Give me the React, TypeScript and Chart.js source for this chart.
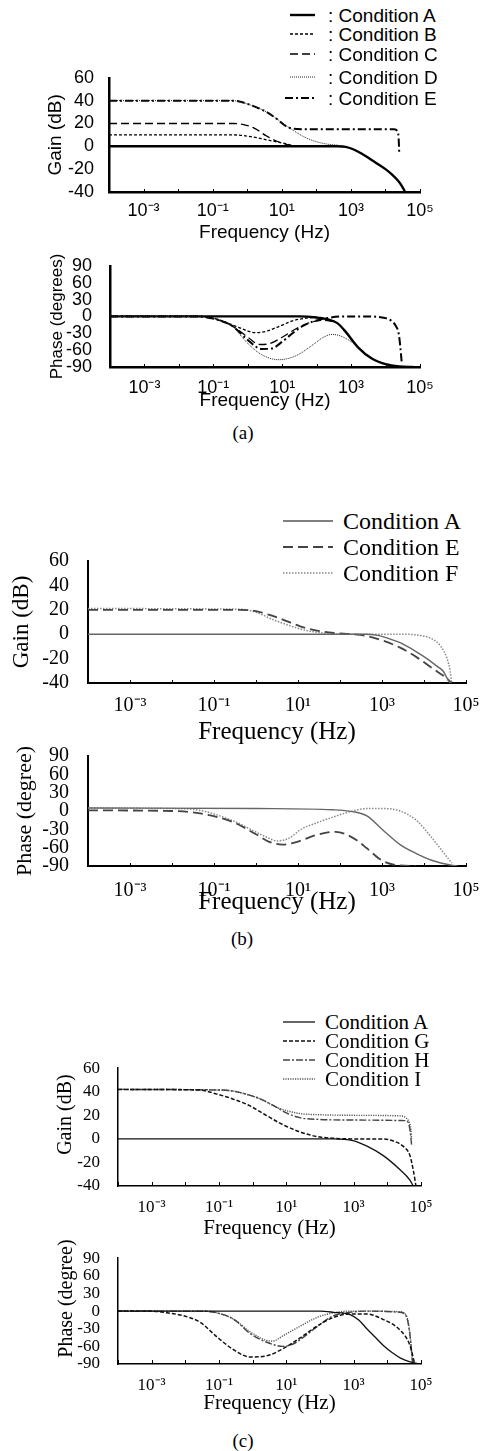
import React, { useEffect, useRef } from 'react';
import { Chart, registerables } from 'chart.js';

Chart.register(...registerables);

type Pts = [number, number][]; // [log10(frequency), value]

// ---------- shared axis data ----------
const X_EXPONENTS = [-4, -3, -2, -1, 0, 1, 2, 3, 4, 5];
const X_TICK_LABELS = ['', '10⁻³', '', '10⁻¹', '', '10¹', '', '10³', '', '10⁵'];
const GAIN_TICKS = [-40, -20, 0, 20, 40, 60];
const PHASE_TICKS = [-90, -60, -30, 0, 30, 60, 90];

// ---------- (a) gain ----------
const A_GAIN_A: Pts = [[-4, 0], [2.6, 0], [2.85, -0.5], [3.1, -3], [3.4, -8], [3.7, -14], [4.0, -20], [4.2, -25], [4.36, -30], [4.48, -35], [4.57, -40]];
const A_GAIN_B: Pts = [[-4, 10], [-0.4, 10], [0.1, 8.5], [0.56, 5.7], [1.03, 2.8], [1.4, 0.3], [2, 0]];
const A_GAIN_C: Pts = [[-4, 20], [-0.4, 20], [-0.1, 19], [0.2, 16], [0.56, 9], [0.9, 4], [1.23, 1], [1.6, 0], [2, 0]];
const A_GAIN_D: Pts = [[-4, 40], [-0.4, 40], [-0.2, 39], [0.2, 35], [0.56, 30], [0.9, 23], [1.23, 16], [1.6, 9], [1.9, 5], [2.3, 2], [2.6, 1], [2.8, 0]];
const A_GAIN_E: Pts = [[-4, 40], [-0.4, 40], [-0.2, 39], [0.2, 35], [0.56, 30], [0.9, 23], [1.1, 18], [1.3, 15.5], [1.6, 15], [4.25, 15], [4.34, 13.5], [4.38, 8], [4.4, -6]];

// ---------- (a) phase ----------
const A_PHASE_A: Pts = [[-4, 0], [1.5, 0], [2.0, -2], [2.3, -5], [2.6, -12], [2.85, -28], [3.2, -55], [3.6, -75], [4.0, -85], [4.4, -89], [4.8, -90]];
const A_PHASE_B: Pts = [[-4, 0], [-1.5, 0], [-1, -3], [-0.45, -15], [0, -26], [0.2, -29], [0.5, -27], [0.9, -18], [1.3, -8], [1.7, -3], [2.1, -2], [2.4, -7]];
const A_PHASE_C: Pts = [[-4, 0], [-1.5, 0], [-1, -4], [-0.45, -17], [0, -37], [0.35, -50], [0.6, -49], [1.0, -37], [1.4, -22], [1.8, -11], [2.2, -7], [2.5, -9]];
const A_PHASE_D: Pts = [[-4, 0], [-1.5, 0], [-1, -4], [-0.45, -18], [0, -48], [0.4, -68], [0.9, -77], [1.4, -70], [1.9, -50], [2.2, -37], [2.45, -32], [2.7, -35], [3.0, -45], [3.2, -55]];
const A_PHASE_E: Pts = [[-4, 0], [-1.5, 0], [-1, -4], [-0.45, -17], [0, -42], [0.4, -58], [0.7, -57], [1.0, -45], [1.3, -30], [1.6, -17], [1.9, -9], [2.3, -3], [2.8, 0], [3.5, 0], [3.9, -2], [4.15, -7], [4.3, -17], [4.38, -30], [4.43, -55], [4.47, -83]];

// ---------- (b) gain ----------
const B_GAIN_A: Pts = [[-4, 0], [2.6, 0], [2.9, -1], [3.2, -4], [3.43, -7], [3.8, -14], [4.07, -20], [4.3, -26], [4.45, -30], [4.55, -36], [4.62, -40]];
const B_GAIN_E: Pts = [[-4, 20], [-0.4, 20], [0, 19], [0.3, 16], [0.64, 12], [1.05, 6.5], [1.45, 3], [1.85, 1], [2.3, 0], [2.64, -1.5], [3.0, -5], [3.43, -11], [3.83, -19], [4.2, -28], [4.6, -38], [4.65, -40]];
const B_GAIN_F: Pts = [[-4, 21], [-0.4, 20.5], [0, 18], [0.4, 12], [0.8, 7], [1.2, 3], [1.6, 1], [2, 0], [3.5, 0], [3.9, -1], [4.2, -4], [4.4, -10], [4.55, -20], [4.62, -30], [4.66, -40]];

// ---------- (b) phase ----------
const B_PHASE_A: Pts = [[-4, 5], [0, 4], [1.83, 2], [2.3, -1], [2.64, -8], [3.02, -31], [3.43, -55], [3.83, -70], [4.2, -81], [4.6, -88], [4.8, -90]];
const B_PHASE_E: Pts = [[-4, 1], [-2, 0], [-1.33, -4], [-0.55, -18], [0, -38], [0.3, -50], [0.64, -55], [1.0, -50], [1.4, -40], [1.9, -34], [2.2, -40], [2.4, -48], [2.64, -61], [3.0, -81], [3.4, -89], [3.8, -90]];
const B_PHASE_F: Pts = [[-4, 5], [-2, 4], [-1.33, 1], [-0.55, -16], [0.26, -43], [0.5, -49], [0.8, -44], [1.05, -31], [1.5, -18], [1.83, -10], [2.25, -1], [2.64, 4], [3.0, 4], [3.43, 0], [3.83, -16], [4.2, -45], [4.6, -80], [4.66, -85]];

// ---------- (c) gain ----------
const C_GAIN_A: Pts = [[-4, 0], [2.4, 0], [2.98, -1.5], [3.38, -6], [3.87, -14], [4.37, -26], [4.67, -35], [4.77, -40]];
const C_GAIN_G: Pts = [[-4, 42], [-1.6, 41.5], [-1.06, 38], [-0.5, 33], [-0.08, 28], [0.4, 20], [0.9, 12], [1.4, 6], [1.9, 2], [2.4, 0.5], [3.0, 0], [3.87, 0], [4.2, -2], [4.5, -7], [4.67, -14], [4.78, -28], [4.85, -40]];
const C_GAIN_H: Pts = [[-4, 42], [-1, 41.5], [-0.56, 40.5], [-0.2, 38], [0.22, 34], [0.7, 27], [1.0, 22], [1.4, 18], [2.0, 16.5], [3.0, 16], [4.5, 15.5], [4.62, 14], [4.68, 6], [4.72, -5]];
const C_GAIN_I: Pts = [[-4, 42], [-1, 41.5], [-0.56, 40.5], [-0.2, 38], [0.22, 34], [0.7, 27], [1.0, 24], [1.4, 21.5], [2.0, 20.5], [3.0, 20], [4.37, 19.5], [4.55, 18], [4.65, 14], [4.7, 8], [4.72, 0]];

// ---------- (c) phase ----------
const C_PHASE_A: Pts = [[-4, 0], [2.0, 0], [2.4, -2], [2.89, -6], [3.15, -15], [3.39, -30], [3.65, -45], [3.89, -59], [4.15, -71], [4.39, -80], [4.65, -86], [4.88, -89]];
const C_PHASE_G: Pts = [[-4, 0], [-3, 0], [-2.55, -3], [-2.05, -8], [-1.56, -19], [-1.06, -44], [-0.56, -66], [-0.08, -78], [0.42, -76], [0.9, -64], [1.4, -46], [1.9, -26], [2.39, -11], [2.89, -5], [3.38, -5], [3.87, -14], [4.37, -32], [4.67, -58], [4.8, -87]];
const C_PHASE_H: Pts = [[-4, 0], [-1.5, 0], [-1.06, -3], [-0.56, -14], [-0.08, -38], [0.42, -53], [0.9, -60], [1.2, -56], [1.4, -49], [1.9, -27], [2.39, -8], [2.89, -2], [3.38, 0], [4.37, -2], [4.57, -10], [4.67, -40], [4.75, -88]];
const C_PHASE_I: Pts = [[-4, 0], [-1.5, 0], [-1.06, -3], [-0.56, -14], [-0.08, -35], [0.42, -50], [0.6, -51], [0.9, -42], [1.4, -26], [1.9, -11], [2.39, -3], [2.89, 0], [3.38, 0], [4.37, -1], [4.57, -8], [4.67, -38], [4.75, -88]];

// ---------- styles ----------
const SANS = '"Liberation Sans", Arial, sans-serif';
const SERIF = '"Liberation Serif", "Times New Roman", serif';
const NBSP5 = '\u00A0\u00A0\u00A0\u00A0\u00A0';

type Style = { color: string; width: number; dash: number[] };
const ST_A1: Style = { color: '#000', width: 2.4, dash: [] };
const ST_B1: Style = { color: '#000', width: 1.3, dash: [3, 2] };
const ST_C1: Style = { color: '#000', width: 1.3, dash: [8, 4] };
const ST_D1: Style = { color: '#222', width: 1, dash: [1, 1] };
const ST_E1: Style = { color: '#000', width: 2, dash: [8, 3, 2, 3] };

const ST_A2: Style = { color: '#666', width: 1.4, dash: [] };
const ST_E2: Style = { color: '#444', width: 1.8, dash: [10, 5] };
const ST_F2: Style = { color: '#888', width: 1.5, dash: [1.5, 1.5] };

const ST_A3: Style = { color: '#111', width: 1.3, dash: [] };
const ST_G3: Style = { color: '#111', width: 1.5, dash: [4, 2] };
const ST_H3: Style = { color: '#444', width: 1.4, dash: [7, 2, 2, 2] };
const ST_I3: Style = { color: '#555', width: 1.4, dash: [1.2, 1.2] };

type Series = { pts: Pts; st: Style };
type PanelCfg = {
  L: number; T: number; R: number; B: number;
  yMin: number; yMax: number; yTicks: number[];
  family: string; tickSize: number;
  yTitle: string; yTitleSize: number; yTitleX: number; yLabelRight: number;
  xTitleSize: number; xTickY: number; xTitleY: number;
  border: number; tickLen: number;
  series: Series[];
};

const inTicksPlugin = {
  id: 'inTicks',
  afterDraw(chart: any, _args: any, opts: any) {
    const { ctx, chartArea } = chart;
    const xs = chart.scales.x;
    ctx.save();
    ctx.strokeStyle = '#000';
    ctx.lineWidth = 1;
    for (const e of X_EXPONENTS) {
      const px = Math.round(xs.getPixelForValue(Math.pow(10, e))) + 0.5;
      ctx.beginPath();
      ctx.moveTo(px, chartArea.bottom);
      ctx.lineTo(px, chartArea.bottom - opts.len);
      ctx.stroke();
    }
    ctx.restore();
  },
};

function Panel({ cfg }: { cfg: PanelCfg }) {
  const ref = useRef<HTMLCanvasElement>(null);
  const padTop = 14;
  const padRight = 30;
  const yLH = cfg.yTitleSize * 1.2;
  const xLH = cfg.xTitleSize * 1.2;
  const left = Math.round(cfg.yTitleX - yLH / 2);
  const yW = cfg.L - left;
  const top = cfg.T - padTop;
  const bottom = Math.ceil(cfg.xTitleY + xLH / 2);
  const xH = bottom - cfg.B;
  const width = cfg.R + padRight - left;
  const height = bottom - top;
  const xPad = cfg.xTickY - cfg.B - (cfg.tickSize * 1.2) / 2;
  const yPad = cfg.L - cfg.yLabelRight;

  useEffect(() => {
    const tickFont = { family: cfg.family, size: cfg.tickSize };
    const chart = new Chart(ref.current as HTMLCanvasElement, {
      type: 'line',
      data: {
        datasets: cfg.series.map((s) => ({
          data: s.pts.map(([e, v]) => ({ x: Math.pow(10, e), y: v })),
          borderColor: s.st.color,
          borderWidth: s.st.width,
          borderDash: s.st.dash,
          pointRadius: 0,
          fill: false,
          cubicInterpolationMode: 'monotone',
        })),
      },
      options: {
        responsive: false,
        animation: false,
        layout: { padding: { top: padTop, right: padRight, left: 0, bottom: 0 } },
        plugins: { legend: { display: false }, tooltip: { enabled: false }, inTicks: { len: cfg.tickLen } } as any,
        scales: {
          x: {
            type: 'logarithmic',
            min: 1e-4,
            max: 1e5,
            afterBuildTicks: (s: any) => {
              s.ticks = X_EXPONENTS.map((e) => ({ value: Math.pow(10, e) }));
            },
            afterFit: (s: any) => {
              s.height = xH;
            },
            grid: { display: false },
            border: { display: true, color: '#000', width: cfg.border },
            ticks: {
              autoSkip: false,
              maxRotation: 0,
              padding: xPad,
              color: '#000',
              font: tickFont,
              callback: (_v: any, i: number) => X_TICK_LABELS[i],
            },
            title: {
              display: true,
              text: 'Frequency (Hz)',
              color: '#000',
              padding: 0,
              font: { family: cfg.family, size: cfg.xTitleSize },
            },
          },
          y: {
            type: 'linear',
            min: cfg.yMin,
            max: cfg.yMax,
            afterBuildTicks: (s: any) => {
              s.ticks = cfg.yTicks.map((v) => ({ value: v }));
            },
            afterFit: (s: any) => {
              s.width = yW;
            },
            grid: { display: false },
            border: { display: true, color: '#000', width: cfg.border },
            ticks: {
              autoSkip: false,
              padding: yPad,
              color: '#000',
              font: tickFont,
              callback: (v: any) => String(v),
            },
            title: {
              display: true,
              text: cfg.yTitle,
              color: '#000',
              padding: 0,
              font: { family: cfg.family, size: cfg.yTitleSize },
            },
          },
        },
      } as any,
      plugins: [inTicksPlugin],
    });
    return () => chart.destroy();
  }, []);

  return (
    <canvas
      ref={ref}
      width={width}
      height={height}
      style={{ position: 'absolute', left, top, width, height }}
    />
  );
}

type LegendItem = { label: string; y: number; st: Style; x1: number; x2: number };

function Legend({ items, textX, family, size }: { items: LegendItem[]; textX: number; family: string; size: number }) {
  return (
    <>
      {items.map((it) => (
        <React.Fragment key={it.label}>
          <svg
            style={{ position: 'absolute', left: it.x1, top: it.y - 5, overflow: 'visible' }}
            width={it.x2 - it.x1}
            height={10}
          >
            <line
              x1={0}
              y1={5}
              x2={it.x2 - it.x1}
              y2={5}
              stroke={it.st.color}
              strokeWidth={it.st.width}
              strokeDasharray={it.st.dash.length ? it.st.dash.join(',') : undefined}
            />
          </svg>
          <div
            style={{
              position: 'absolute',
              left: textX,
              top: it.y,
              transform: 'translateY(-50%)',
              fontFamily: family,
              fontSize: size,
              lineHeight: 1,
              whiteSpace: 'nowrap',
              color: '#000',
            }}
          >
            {it.label}
          </div>
        </React.Fragment>
      ))}
    </>
  );
}

function Caption({ text, x, y }: { text: string; x: number; y: number }) {
  return (
    <div
      style={{
        position: 'absolute',
        left: x,
        top: y,
        transform: 'translate(-50%, -50%)',
        fontFamily: SERIF,
        fontSize: 19,
        lineHeight: 1,
        color: '#000',
      }}
    >
      {text}
    </div>
  );
}

const PANEL_A_GAIN: PanelCfg = {
  L: 109, T: 74, R: 420, B: 192, yMin: -40, yMax: 60, yTicks: GAIN_TICKS,
  family: SANS, tickSize: 18, yTitle: 'Gain (dB)', yTitleSize: 19, yTitleX: 55, yLabelRight: 102,
  xTitleSize: 19, xTickY: 203, xTitleY: 232, border: 2.5, tickLen: 3,
  series: [
    { pts: A_GAIN_D, st: ST_D1 },
    { pts: A_GAIN_E, st: ST_E1 },
    { pts: A_GAIN_C, st: ST_C1 },
    { pts: A_GAIN_B, st: ST_B1 },
    { pts: A_GAIN_A, st: ST_A1 },
  ],
};
const PANEL_A_PHASE: PanelCfg = {
  L: 110, T: 259, R: 420, B: 367, yMin: -90, yMax: 90, yTicks: PHASE_TICKS,
  family: SANS, tickSize: 18, yTitle: 'Phase (degrees)', yTitleSize: 17, yTitleX: 57, yLabelRight: 100,
  xTitleSize: 19, xTickY: 380, xTitleY: 400, border: 2.5, tickLen: 3,
  series: [
    { pts: A_PHASE_D, st: ST_D1 },
    { pts: A_PHASE_E, st: ST_E1 },
    { pts: A_PHASE_C, st: ST_C1 },
    { pts: A_PHASE_B, st: ST_B1 },
    { pts: A_PHASE_A, st: ST_A1 },
  ],
};
const PANEL_B_GAIN: PanelCfg = {
  L: 88, T: 552, R: 466, B: 683, yMin: -40, yMax: 60, yTicks: GAIN_TICKS,
  family: SERIF, tickSize: 20, yTitle: 'Gain (dB)', yTitleSize: 23, yTitleX: 22, yLabelRight: 77,
  xTitleSize: 25, xTickY: 698, xTitleY: 732, border: 2, tickLen: 3,
  series: [
    { pts: B_GAIN_A, st: ST_A2 },
    { pts: B_GAIN_E, st: ST_E2 },
    { pts: B_GAIN_F, st: ST_F2 },
  ],
};
const PANEL_B_PHASE: PanelCfg = {
  L: 88, T: 747, R: 466, B: 866, yMin: -90, yMax: 90, yTicks: PHASE_TICKS,
  family: SERIF, tickSize: 20, yTitle: 'Phase (degree)', yTitleSize: 22, yTitleX: 25, yLabelRight: 77,
  xTitleSize: 25, xTickY: 883, xTitleY: 902, border: 2, tickLen: 3,
  series: [
    { pts: B_PHASE_A, st: ST_A2 },
    { pts: B_PHASE_E, st: ST_E2 },
    { pts: B_PHASE_F, st: ST_F2 },
  ],
};
const PANEL_C_GAIN: PanelCfg = {
  L: 118, T: 1062, R: 421, B: 1186, yMin: -40, yMax: 60, yTicks: GAIN_TICKS,
  family: SERIF, tickSize: 17, yTitle: NBSP5 + 'Gain (dB)', yTitleSize: 20, yTitleX: 66, yLabelRight: 108,
  xTitleSize: 21, xTickY: 1200, xTitleY: 1228, border: 1.5, tickLen: 4,
  series: [
    { pts: C_GAIN_A, st: ST_A3 },
    { pts: C_GAIN_G, st: ST_G3 },
    { pts: C_GAIN_H, st: ST_H3 },
    { pts: C_GAIN_I, st: ST_I3 },
  ],
};
const PANEL_C_PHASE: PanelCfg = {
  L: 118, T: 1252, R: 421, B: 1364, yMin: -90, yMax: 90, yTicks: PHASE_TICKS,
  family: SERIF, tickSize: 17, yTitle: NBSP5 + 'Phase (degree)', yTitleSize: 20, yTitleX: 67, yLabelRight: 108,
  xTitleSize: 21, xTickY: 1378, xTitleY: 1403, border: 1.5, tickLen: 4,
  series: [
    { pts: C_PHASE_A, st: ST_A3 },
    { pts: C_PHASE_G, st: ST_G3 },
    { pts: C_PHASE_H, st: ST_H3 },
    { pts: C_PHASE_I, st: ST_I3 },
  ],
};

const LEGEND_A: LegendItem[] = [
  { label: ': Condition A', y: 15, st: ST_A1, x1: 290, x2: 315 },
  { label: ': Condition B', y: 34, st: ST_B1, x1: 290, x2: 315 },
  { label: ': Condition C', y: 54, st: ST_C1, x1: 290, x2: 315 },
  { label: ': Condition D', y: 77, st: ST_D1, x1: 290, x2: 315 },
  { label: ': Condition E', y: 98, st: ST_E1, x1: 285, x2: 315 },
];
const LEGEND_B: LegendItem[] = [
  { label: 'Condition A', y: 521, st: { ...ST_A2, color: '#000', width: 1.2 }, x1: 283, x2: 333 },
  { label: 'Condition E', y: 547, st: ST_E2, x1: 283, x2: 333 },
  { label: 'Condition F', y: 573, st: ST_F2, x1: 283, x2: 333 },
];
const LEGEND_C: LegendItem[] = [
  { label: 'Condition A', y: 1022, st: ST_A3, x1: 283, x2: 315 },
  { label: 'Condition G', y: 1041, st: ST_G3, x1: 283, x2: 315 },
  { label: 'Condition H', y: 1060, st: ST_H3, x1: 283, x2: 315 },
  { label: 'Condition I', y: 1079, st: ST_I3, x1: 283, x2: 315 },
];

export default function App() {
  return (
    <div style={{ position: 'absolute', left: 0, top: 0, width: 486, height: 1451, background: '#fff', overflow: 'hidden' }}>
      <Panel cfg={PANEL_A_GAIN} />
      <Panel cfg={PANEL_A_PHASE} />
      <Legend items={LEGEND_A} textX={328} family={SANS} size={19} />
      <Caption text="(a)" x={243} y={432} />

      <Panel cfg={PANEL_B_GAIN} />
      <Panel cfg={PANEL_B_PHASE} />
      <Legend items={LEGEND_B} textX={343} family={SERIF} size={24} />
      <Caption text="(b)" x={242} y={938} />

      <Panel cfg={PANEL_C_GAIN} />
      <Panel cfg={PANEL_C_PHASE} />
      <Legend items={LEGEND_C} textX={325} family={SERIF} size={21} />
      <Caption text="(c)" x={243} y={1440} />
    </div>
  );
}
